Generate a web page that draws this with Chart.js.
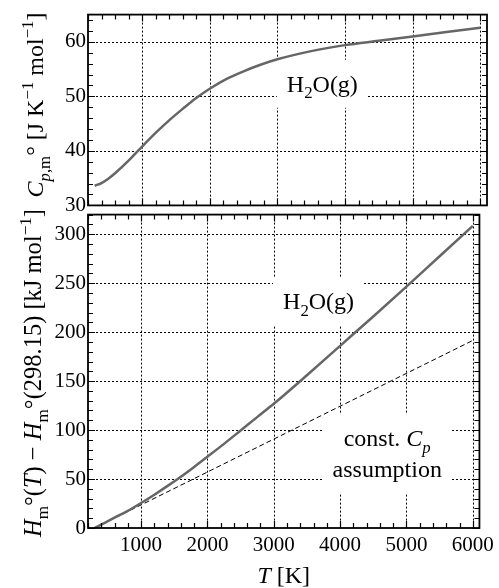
<!DOCTYPE html>
<html><head><meta charset="utf-8">
<script src="https://cdn.jsdelivr.net/npm/chart.js@4.4.1/dist/chart.umd.min.js"></script>
<style>
html,body{margin:0;padding:0;background:#fff;}
#wrap{position:relative;width:499px;height:588px;overflow:hidden;background:#fff;}
.box{position:absolute;left:0;width:499px;}
</style></head><body>
<div id="wrap">
  <div class="box" style="top:0;height:220px"><canvas id="cpChart"></canvas></div>
  <div class="box" style="top:200px;height:388px"><canvas id="dhChart"></canvas></div>
</div>
<script>
const temps = [298.15, 400, 500, 600, 800, 1000, 1200, 1400, 1600, 1800, 2000, 2250, 2500, 2750, 3000, 3500, 4000, 4500, 5000, 5500, 6000];
// Cp,m of H2O(g) [J K-1 mol-1]
const cpValues = [33.6, 34.1, 34.9, 35.9, 38.2, 40.8, 43.3, 45.6, 47.7, 49.7, 51.4, 53.2, 54.6, 55.8, 56.8, 58.3, 59.4, 60.2, 61.0, 61.8, 62.6];
// Hm(T) - Hm(298.15) [kJ mol-1]
const dhValues = [0, 3.5, 7.0, 10.5, 17.5, 25.5, 34.0, 43.0, 52.4, 62.4, 72.8, 85.9, 99.5, 113.2, 126.8, 156.0, 186.0, 216.0, 246.5, 277.5, 308.5];
// const. Cp assumption line
const constTemps = [298.15, 6000];
const constDh = [0, 191.5];

const xTicks = [1000, 2000, 3000, 4000, 5000, 6000];
const cpTicks = [30, 40, 50, 60];
const dhTicks = [0, 50, 100, 150, 200, 250, 300];

const SERIF = '"Liberation Serif", "Times New Roman", serif';

function pts(xs, ys) { return xs.map((x, i) => ({x: x, y: ys[i]})); }

/* rich text: parts are [text, italic, shift] with shift -1 sub, 1 sup */
function measureRich(ctx, parts, size) {
  let w = 0;
  const items = parts.map(p => {
    const s = p[2] ? size * 0.7 : size;
    ctx.font = (p[1] ? 'italic ' : '') + s + 'px ' + SERIF;
    const m = ctx.measureText(p[0]).width;
    w += m;
    return {t: p[0], font: ctx.font, w: m, dy: p[2] === -1 ? size * 0.28 : (p[2] === 1 ? -size * 0.42 : 0)};
  });
  return {items, w};
}
function paintRich(ctx, rich, x, y) {
  let cx = x;
  rich.items.forEach(it => { ctx.font = it.font; ctx.fillText(it.t, cx, y + it.dy); cx += it.w; });
}

const framePlugin = {
  id: 'frame',
  beforeDatasetsDraw(chart, args, o) {
    const ctx = chart.ctx, a = chart.chartArea, xs = chart.scales.x, ys = chart.scales.y;
    ctx.save();
    ctx.strokeStyle = '#000';
    ctx.lineWidth = 1;
    ctx.setLineDash([2, 2]);
    ctx.beginPath();
    o.gridX.forEach(v => { const p = Math.round(xs.getPixelForValue(v)) + 0.5; ctx.moveTo(p, a.top); ctx.lineTo(p, a.bottom); });
    o.gridY.forEach(v => { const p = Math.round(ys.getPixelForValue(v)) + 0.5; ctx.moveTo(a.left, p); ctx.lineTo(a.right, p); });
    ctx.stroke();
    ctx.setLineDash([]);
    // white boxes with text labels
    ctx.fillStyle = '#000';
    ctx.textBaseline = 'alphabetic';
    o.notes.forEach(n => {
      const px = xs.getPixelForValue(n.x), py = ys.getPixelForValue(n.y);
      const rows = n.lines.map(l => measureRich(ctx, l, 24));
      const wmax = Math.max(...rows.map(r => r.w));
      const last = py + (rows.length - 1) * 30.5;
      let l = n.align === 'left' ? px : px - wmax / 2;
      ctx.fillStyle = '#fff';
      ctx.fillRect(l - 10, py - 32, wmax + 20, last - py + 48);
      ctx.fillStyle = '#000';
      rows.forEach((r, i) => {
        const x0 = n.align === 'left' ? px : px - r.w / 2;
        paintRich(ctx, r, x0, py + i * 30.5);
      });
    });
    ctx.restore();
  },
  afterDatasetsDraw(chart, args, o) {
    const ctx = chart.ctx, a = chart.chartArea, xs = chart.scales.x, ys = chart.scales.y;
    ctx.save();
    ctx.strokeStyle = '#000';
    ctx.lineWidth = 1.2;
    ctx.beginPath();
    const tickX = (step, len) => {
      for (let v = Math.ceil(xs.min / step) * step; v <= xs.max; v += step) {
        const p = Math.round(xs.getPixelForValue(v)) + 0.5;
        ctx.moveTo(p, a.top); ctx.lineTo(p, a.top + len);
        ctx.moveTo(p, a.bottom); ctx.lineTo(p, a.bottom - len);
      }
    };
    const tickY = (step, len) => {
      for (let v = Math.ceil(ys.min / step) * step; v <= ys.max; v += step) {
        const p = Math.round(ys.getPixelForValue(v)) + 0.5;
        ctx.moveTo(a.left, p); ctx.lineTo(a.left + len, p);
        ctx.moveTo(a.right, p); ctx.lineTo(a.right - len, p);
      }
    };
    tickX(o.xMinor, 5); tickX(o.xMajor, 7);
    tickY(o.yMinor, 5); tickY(o.yMajor, 7);
    ctx.stroke();
    ctx.lineWidth = 1.8;
    ctx.strokeRect(a.left, a.top, a.right - a.left, a.bottom - a.top);
    // axis titles
    ctx.fillStyle = '#000';
    ctx.textBaseline = 'alphabetic';
    if (o.yTitle) {
      const r = measureRich(ctx, o.yTitle.parts, o.yTitle.size);
      ctx.save();
      ctx.translate(o.yTitle.x, o.yTitle.y);
      ctx.rotate(-Math.PI / 2);
      paintRich(ctx, r, -r.w / 2, 0);
      ctx.restore();
    }
    if (o.xTitle) {
      const r = measureRich(ctx, o.xTitle.parts, o.xTitle.size);
      paintRich(ctx, r, (a.left + a.right) / 2 - r.w / 2, o.xTitle.y);
    }
    ctx.restore();
  }
};

function ticksFrom(list) { return s => { s.ticks = list.map(v => ({value: v})); }; }

const tickFont = {family: SERIF, size: 21};

new Chart(document.getElementById('cpChart'), {
  type: 'line',
  data: {datasets: [{
    data: pts(temps, cpValues),
    borderColor: '#666', borderWidth: 2.5, pointRadius: 0,
    cubicInterpolationMode: 'monotone'
  }]},
  options: {
    responsive: true, maintainAspectRatio: false, animation: false,
    layout: {padding: {top: 7, right: 12, bottom: 14, left: 0}},
    plugins: {
      legend: {display: false}, tooltip: {enabled: false},
      frame: {
        gridX: xTicks, gridY: [40, 50, 60],
        xMinor: 200, xMajor: 1000, yMinor: 2, yMajor: 10,
        notes: [{x: 3140, y: 50.85, align: 'left', lines: [[['H', 0, 0], ['2', 0, -1], ['O(g)', 0, 0]]]}],
        yTitle: {x: 43, y: 105, size: 24, parts: [
          ['C', 1, 0], ['p', 1, -1], [',m', 0, -1], ['\u00b0 [J K', 0, 0], ['\u22121', 0, 1], [' mol', 0, 0], ['\u22121', 0, 1], [']', 0, 0]
        ]}
      }
    },
    scales: {
      x: {type: 'linear', min: 200, max: 6100, display: false},
      y: {
        type: 'linear', min: 30, max: 65,
        afterBuildTicks: ticksFrom(cpTicks),
        afterFit: s => { s.width = 88; },
        grid: {display: false, drawTicks: false}, border: {display: false},
        ticks: {font: tickFont, color: '#000', padding: 2}
      }
    }
  },
  plugins: [framePlugin]
});

new Chart(document.getElementById('dhChart'), {
  type: 'line',
  data: {datasets: [
    {data: pts(temps, dhValues), borderColor: '#666', borderWidth: 2.5, pointRadius: 0, cubicInterpolationMode: 'monotone'},
    {data: pts(constTemps, constDh), borderColor: '#000', borderWidth: 1, borderDash: [5, 3], pointRadius: 0}
  ]},
  options: {
    responsive: true, maintainAspectRatio: false, animation: false,
    layout: {padding: {top: 14.5, right: 12, bottom: 0, left: 0}},
    plugins: {
      legend: {display: false}, tooltip: {enabled: false},
      frame: {
        gridX: xTicks, gridY: [50, 100, 150, 200, 250, 300],
        xMinor: 200, xMajor: 1000, yMinor: 10, yMajor: 50,
        notes: [
          {x: 3140, y: 223.6, align: 'left', lines: [[['H', 0, 0], ['2', 0, -1], ['O(g)', 0, 0]]]},
          {x: 4710, y: 83.4, align: 'center', lines: [
            [['const. ', 0, 0], ['C', 1, 0], ['p', 1, -1]],
            [['assumption', 0, 0]]
          ]}
        ],
        yTitle: {x: 41, y: 173, size: 24.5, parts: [
          ['H', 1, 0], ['m', 0, -1], ['\u00b0(', 0, 0], ['T', 1, 0], [') \u2212 ', 0, 0],
          ['H', 1, 0], ['m', 0, -1], ['\u00b0(298.15) [kJ mol', 0, 0], ['\u22121', 0, 1], [']', 0, 0]
        ]},
        xTitle: {y: 382.5, size: 24, parts: [['T', 1, 0], [' [K]', 0, 0]]}
      }
    },
    scales: {
      x: {
        type: 'linear', min: 200, max: 6100,
        afterBuildTicks: ticksFrom(xTicks),
        afterFit: s => { s.height = 60; },
        grid: {display: false, drawTicks: false}, border: {display: false},
        ticks: {font: tickFont, color: '#000', padding: 5, maxRotation: 0, autoSkip: false, callback: v => String(v)}
      },
      y: {
        type: 'linear', min: 0, max: 320,
        afterBuildTicks: ticksFrom(dhTicks),
        afterFit: s => { s.width = 88; },
        grid: {display: false, drawTicks: false}, border: {display: false},
        ticks: {font: tickFont, color: '#000', padding: 2}
      }
    }
  },
  plugins: [framePlugin]
});
</script>
</body></html>
